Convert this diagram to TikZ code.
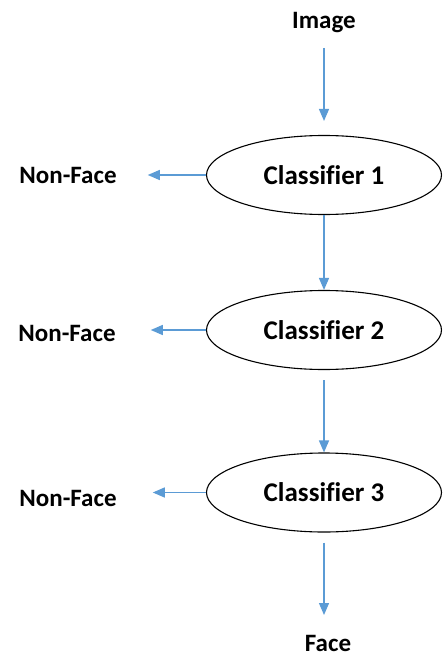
\documentclass[tikz,border=0pt]{standalone}
\usepackage{fontspec}
\setmainfont{Carlito}[Ligatures=CommonOff]
\usetikzlibrary{arrows.meta,shapes.geometric}
\definecolor{arrblue}{RGB}{91,155,213}
\begin{document}
\begin{tikzpicture}[x=1pt,y=-1pt,
 cls/.style={draw=black,line width=1.1pt,ellipse,minimum width=235pt,minimum height=79pt,inner sep=0pt,font=\fontsize{27}{30}\selectfont\bfseries},
 lbl/.style={font=\fontsize{25}{28}\selectfont\bfseries,inner sep=0pt},
 arr/.style={draw=arrblue,line width=1.3pt,-{Triangle[width=10pt,length=12pt]}}]
\useasboundingbox (0,0) rectangle (442,655);
\node[lbl] (img) at (324,23) {Image};
\node[cls] (c1) at (324,175) {Classifier 1};
\node[cls] (c2) at (324,330) {Classifier 2};
\node[cls] (c3) at (324,492.5) {Classifier 3};
\node[lbl] (face) at (328,643) {Face};
\node[lbl] (n1) at (68,175) {Non-Face};
\node[lbl] (n2) at (67,333) {Non-Face};
\node[lbl] (n3) at (68,498) {Non-Face};
\draw[arr,shorten <=25pt,shorten >=14pt] (img.center -| c1.north) -- (c1.north);
\draw[arr] (c1.south) -- (c2.north);
\draw[arr,shorten <=10pt] (c2.south) -- (c3.north);
\draw[arr,shorten <=10pt,shorten >=28pt] (c3.south) -- (c3.south |- face.center);
\draw[arr,shorten >=31pt] (c1.west) -- (c1.west -| n1.east);
\draw[arr,shorten >=35pt] (c2.west) -- (c2.west -| n2.east);
\draw[arr,shorten >=36pt] (c3.west) -- (c3.west -| n3.east);
\end{tikzpicture}
\end{document}
